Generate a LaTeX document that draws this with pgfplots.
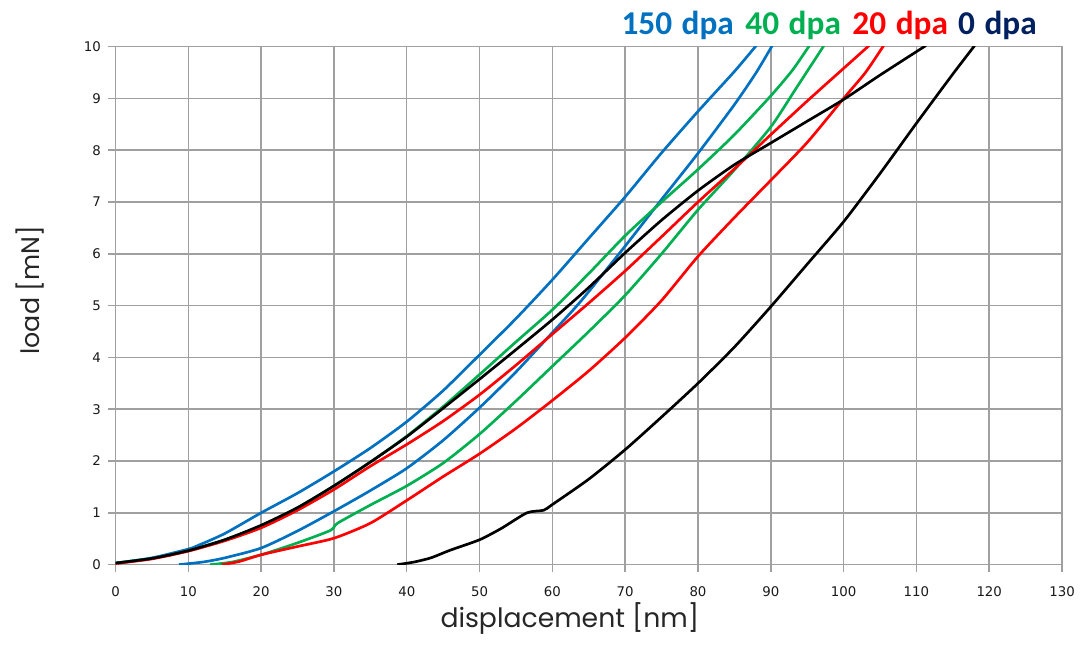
\documentclass[border=0pt]{standalone}
\usepackage{fontspec}
\setmainfont{DejaVu Sans}
\newfontfamily\legfont{Carlito}
\newfontfamily\labfont{Poppins}
\usepackage{pgfplots}
\pgfplotsset{compat=1.18}
\definecolor{cblue}{HTML}{0070C0}
\definecolor{cgreen}{HTML}{00B050}
\definecolor{cred}{HTML}{FF0000}
\definecolor{cnavy}{HTML}{002060}
\definecolor{gridgray}{HTML}{A0A0A0}
\begin{document}
\begin{tikzpicture}
\useasboundingbox (-86.7pt,-67.5pt) rectangle (726pt,423.7pt);
\begin{axis}[
  at={(0pt,0pt)}, anchor=south west,
  scale only axis, width=710.25pt, height=388.7pt,
  xmin=0, xmax=130, ymin=0, ymax=10,
  xtick={0,10,...,130}, ytick={0,1,...,10},
  grid=major,
  grid style={line width=1.1pt, color=gridgray},
  axis line style={line width=1.1pt, color=gridgray},
  tick style={line width=1.1pt, color=gridgray},
  tick align=outside, major tick length=5.5pt,
  tick pos=left,
  /pgf/number format/assume math mode=true,
  ticklabel style={font=\fontsize{10}{12}\selectfont, text=black!90},
  xticklabel style={yshift=-7.5pt},
  yticklabel style={xshift=-2pt},
  xlabel={\labfont displacement [nm]},
  ylabel={\labfont load [mN]},
  xlabel style={font=\fontsize{20}{24}\selectfont, at={(axis description cs:0.48,0)}, anchor=base, yshift=-47pt, text=black!85},
  ylabel style={font=\fontsize{19}{23}\selectfont, at={(axis description cs:0,0.53)}, anchor=center, yshift=64pt, text=black!85},
  clip mode=individual,
  every axis plot/.append style={line width=2pt, no marks, smooth, tension=0.4},
]
% 150 dpa loading
\addplot[cblue] coordinates {(0,0.03) (5,0.13) (10,0.3) (11.5,0.38) (15,0.6) (20,1.0) (25,1.38) (30,1.8) (35,2.25) (40,2.76) (45,3.36) (50,4.05) (55,4.75) (60,5.5) (65,6.3) (70,7.1) (75,7.95) (80,8.75) (85,9.52) (88,10.02)};
% 150 dpa unloading
\addplot[cblue] coordinates {(8.7,0) (12,0.05) (15,0.13) (20,0.32) (25,0.65) (30,1.03) (35,1.43) (40,1.86) (45,2.4) (50,3.03) (55,3.72) (60,4.48) (64,5.1) (70,6.15) (75,7.05) (80,7.94) (85,8.88) (88,9.5) (90.2,10.02)};
% 40 dpa loading
\addplot[cgreen] coordinates {(0,0.03) (5,0.12) (10,0.27) (15,0.48) (20,0.75) (25,1.1) (30,1.52) (35,1.98) (40,2.48) (45,3.05) (50,3.67) (55,4.3) (60,4.92) (65,5.62) (70,6.35) (75,7.0) (80,7.63) (85,8.3) (90,9.05) (93,9.55) (95.3,10.02)};
% 40 dpa unloading
\addplot[cgreen] coordinates {(13,0) (16,0.05) (20,0.19) (25,0.42) (29.5,0.66) (30.5,0.8) (35,1.15) (40,1.52) (45,1.96) (50,2.52) (55,3.16) (60,3.83) (65,4.5) (70,5.2) (75,6.0) (80,6.85) (85,7.62) (90,8.45) (93.5,9.2) (97.3,10.02)};
% 20 dpa loading
\addplot[cred] coordinates {(0,0.02) (5,0.11) (10,0.26) (15,0.46) (20,0.71) (25,1.05) (30,1.45) (35,1.9) (40,2.32) (45,2.77) (50,3.28) (55,3.85) (60,4.45) (65,5.05) (70,5.67) (75,6.33) (80,7.0) (85,7.64) (90,8.3) (95,8.95) (100,9.58) (103.5,10.02)};
% 20 dpa unloading
\addplot[cred] coordinates {(14.6,0) (17,0.06) (20,0.19) (25,0.35) (30,0.51) (35,0.8) (40,1.24) (45,1.7) (50,2.14) (55,2.63) (60,3.17) (65,3.74) (70,4.38) (75,5.1) (80,5.95) (85,6.7) (90,7.42) (95,8.15) (100,9.0) (103,9.5) (105.5,10.02)};
% 0 dpa loading
\addplot[black] coordinates {(0,0.03) (5,0.12) (10,0.27) (15,0.48) (20,0.76) (25,1.1) (30,1.52) (35,1.98) (40,2.47) (45,3.02) (50,3.58) (55,4.15) (60,4.73) (65,5.35) (70,6.02) (75,6.65) (80,7.22) (85,7.72) (90,8.14) (95,8.56) (100,8.98) (105,9.45) (111.3,10.02)};
% 0 dpa unloading
\addplot[black] coordinates {(38.7,0) (41,0.05) (43.3,0.13) (46,0.28) (50,0.48) (53,0.7) (56.5,1.0) (58.8,1.05) (60,1.16) (65,1.65) (70,2.22) (75,2.85) (80,3.5) (85,4.2) (90,4.98) (95,5.8) (100,6.62) (105,7.55) (110,8.52) (115,9.47) (118,10.02)};
\node[anchor=base east, font=\legfont\bfseries\fontsize{25}{30}\selectfont, inner sep=0pt] at (rel axis cs:0.9736,1.0226)
  {\textcolor{cblue}{150\hspace{1.5pt} dpa}\hspace{3pt} \textcolor{cgreen}{40\hspace{1.5pt} dpa}\hspace{3pt} \textcolor{cred}{20\hspace{1.5pt} dpa}\hspace{2pt} \textcolor{cnavy}{0\hspace{1.5pt} dpa}};
\end{axis}
\end{tikzpicture}
\end{document}
